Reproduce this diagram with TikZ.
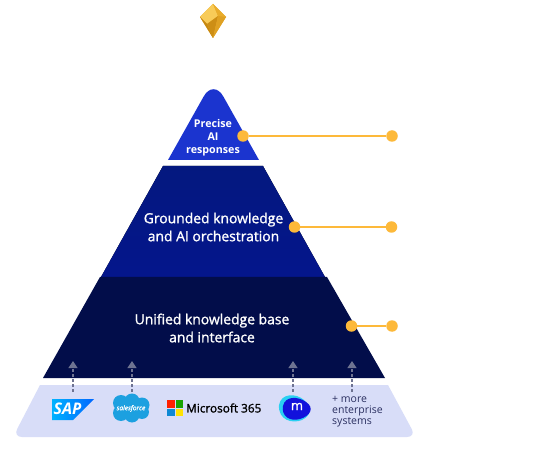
\documentclass[tikz,border=0pt]{standalone}
\usepackage{fontspec}
\setmainfont{Open Sans}
\newfontfamily\semi{Open Sans}[FakeBold=1.3]
\usetikzlibrary{arrows.meta}
\definecolor{gold}{HTML}{FDB93A}
\definecolor{tiertop}{HTML}{1B34CF}
\definecolor{tiermid}{HTML}{04187F}
\definecolor{tierlow}{HTML}{020D4A}
\definecolor{basefill}{HTML}{D8DDF8}
\definecolor{feed}{HTML}{6E7391}
\definecolor{inktext}{HTML}{2A2F60}
\definecolor{cloudblue}{HTML}{1CA0E0}
\definecolor{mblue}{HTML}{1212DC}
\definecolor{mcyan}{HTML}{2AD0F2}
\definecolor{gemlight}{HTML}{F8CB58}
\definecolor{gemmid}{HTML}{E9AC2B}
\definecolor{gemdark}{HTML}{C6870F}
\begin{document}
\begin{tikzpicture}[x=1pt,y=-1pt,
    tierlabel/.style={text=white,align=center,font=\semi\fontsize{13.9}{18}\selectfont},
    dot/.style={circle,fill=gold,inner sep=0pt,minimum size=11.5pt},
    leader/.style={gold,line width=2pt},
    feedline/.style={feed,line width=1.2pt,dash pattern=on 3pt off 2pt,-{Triangle[width=9pt,length=7pt]}}]
\useasboundingbox (0,0) rectangle (541,449);
\fill[fill=white] (0,0) rectangle (541,449);

\fill[tiertop] (168,160) [rounded corners=20pt] -- (213.5,79) [sharp corners] -- (259,160) -- cycle;
\fill[bottom color=tiermid!90!blue,top color=tiermid] (163,166) -- (263,166) -- (325,277) -- (101,277) -- cycle;
\fill[tierlow] (100,277) -- (327,277) -- (385,378) -- (43,378) -- cycle;
\fill[basefill] (40,385) -- (388,385) [rounded corners=9pt] -- (416,437) -- (13,437) [sharp corners] -- cycle;

\fill[gemmid] (213,4) -- (200,17) -- (213,38) -- (226,17) -- cycle;
\fill[gemlight] (213,4) -- (200,17) -- (207,24) -- (218,16) -- cycle;
\fill[gemmid] (213,4) -- (226,17) -- (218,16) -- cycle;
\fill[gemdark] (200,17) -- (213,38) -- (207,24) -- cycle;
\fill[gemdark!80!gemmid] (207,24) -- (213,38) -- (218,16) -- cycle;
\fill[gemmid!70!gemdark] (226,17) -- (213,38) -- (218,16) -- cycle;

\node[tierlabel,font=\bfseries\fontsize{10.7}{13}\selectfont] (precise) at (213,137.5) {Precise\\AI\\responses};
\node[tierlabel] (grounded) at (213.5,227) {Grounded knowledge\\and AI orchestration};
\node[tierlabel] (unified) at (212,328) {Unified knowledge base\\and interface};

\node[dot] (d1) at (243,136) {};
\node[dot] (e1) at (392,136) {};
\node[dot] (d2) at (294.5,227) {};
\node[dot] (e2) at (391.5,227) {};
\node[dot] (d3) at (351.5,326) {};
\node[dot] (e3) at (392,326) {};
\draw[leader] (d1) -- (e1);
\draw[leader] (d2) -- (e2);
\draw[leader] (d3) -- (e3);

\foreach \i/\x in {1/73,2/132,3/293,4/352} {
    \coordinate (s\i) at (\x,392);
    \coordinate (t\i) at (\x,361);
    \draw[feedline] (s\i) -- (t\i);
}

\shade[left color=cyan!70!blue,right color=blue!60!cyan] (52,399) -- (94,399) -- (73,420) -- (52,420) -- cycle;
\node[text=white,font=\bfseries\itshape\fontsize{16}{16}\selectfont,inner sep=0pt] (sap) at (67.5,409) {SAP};

\fill[cloudblue] (121,403) circle (8pt) (132,401) circle (7.5pt) (142,405) circle (7.5pt) (142,412) circle (7pt) (132,415) circle (7.5pt) (121,413) circle (8pt) (131,408) circle (10pt);
\node[text=white,font=\semi\itshape\fontsize{6.5}{7}\selectfont,inner sep=0pt] (salesforce) at (131,408.5) {salesforce};

\fill[red!75!orange] (167,400) rectangle (174.5,407.5);
\fill[green!60!black!90!yellow] (175.5,400) rectangle (183,407.5);
\fill[cyan!70!blue] (167,408.5) rectangle (174.5,416);
\fill[yellow!85!orange] (175.5,408.5) rectangle (183,416);
\node[anchor=west,inner sep=0pt,font=\semi\fontsize{11.8}{13}\selectfont] (ms) at (186,408) {Microsoft 365};

\fill[mcyan] (279,405) .. controls (281,393) and (296,393) .. (304,400) .. controls (312,407) and (312,415) .. (302,420) .. controls (292,424) and (278,420) .. (279,405) -- cycle;
\fill[mblue] (283,406) .. controls (285,396) and (298,396) .. (306,402) .. controls (315,408) and (310,416) .. (300,419) .. controls (290,422) and (281,416) .. (283,406) -- cycle;
\node[text=white,font=\semi\fontsize{13}{13}\selectfont,inner sep=0pt] (mlogo) at (297,406.5) {m};

\node[anchor=north west,align=left,text=inktext,inner sep=0pt,font=\fontsize{10.5}{11}\selectfont] (more) at (332,396) {+ more\\enterprise\\systems};
\end{tikzpicture}
\end{document}
